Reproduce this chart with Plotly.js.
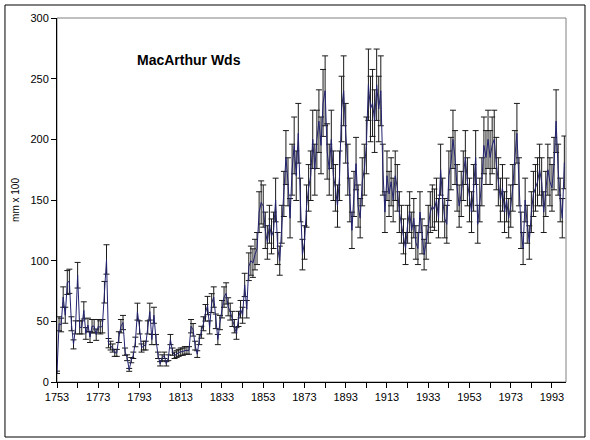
<!DOCTYPE html>
<html>
<head>
<meta charset="utf-8">
<script src="https://cdn.plot.ly/plotly-3.0.1.min.js"></script>
<style>
  html, body { margin: 0; padding: 0; background: #ffffff; }
  #chart { width: 590px; height: 440px; }
</style>
</head>
<body>
<div id="chart"></div>
<script>
// Years 1753..1999 (annual)
const startYear = 1753;
const ringWidth = [
  8, 48, 47, 70, 55, 82, 83, 48, 31, 45,          // 1753-1762
  88, 45, 45, 59, 40, 47, 37, 46, 46, 39,         // 1763-1772
  46, 45, 46, 74, 101, 32, 30, 28, 24, 24,        // 1773-1782
  37, 46, 49, 25, 20, 10, 18, 22, 33, 58,         // 1783-1792
  45, 28, 30, 30, 45, 58, 35, 55, 35, 22,         // 1793-1802
  15, 20, 22, 15, 20, 35, 25, 22, 23, 24,         // 1803-1812
  25, 25, 26, 26, 26, 46, 43, 30, 23, 35,         // 1813-1822
  41, 48, 57, 63, 45, 65, 70, 50, 35, 49,         // 1823-1832
  60, 70, 73, 62, 58, 52, 46, 40, 52, 60,         // 1833-1842
  55, 80, 60, 95, 100, 98, 105, 110, 140, 148,    // 1843-1852
  145, 125, 115, 130, 120, 125, 150, 110, 100, 130, // 1853-1862
  155, 185, 165, 135, 175, 195, 170, 205, 150, 105, // 1863-1872
  115, 145, 160, 170, 200, 175, 200, 215, 195, 230, // 1873-1882
  240, 190, 175, 200, 170, 160, 145, 170, 225, 240, // 1883-1892
  205, 175, 150, 125, 155, 180, 145, 135, 165, 175, // 1893-1902
  195, 245, 225, 230, 215, 245, 225, 240, 175, 140, // 1903-1912
  170, 155, 165, 150, 170, 160, 140, 130, 120, 110, // 1913-1922
  130, 140, 125, 135, 115, 110, 140, 120, 105, 115, // 1923-1932
  130, 140, 145, 142, 150, 135, 175, 150, 135, 130, // 1933-1942
  170, 180, 200, 185, 160, 145, 155, 170, 185, 165, // 1943-1952
  150, 140, 160, 185, 130, 150, 165, 195, 185, 200, // 1953-1962
  185, 195, 200, 180, 165, 150, 160, 140, 150, 135, // 1963-1972
  145, 160, 185, 205, 165, 125, 110, 150, 130, 115, // 1973-1982
  140, 155, 160, 165, 175, 165, 140, 155, 175, 165, // 1983-1992
  160, 180, 215, 175, 150, 135, 181                 // 1993-1999
];
const years = ringWidth.map((_, i) => startYear + i);

const chartTitle = 'MacArthur Wds';
const yAxisTitle = 'mm x 100';
const xTickYears = [1753, 1773, 1793, 1813, 1833, 1853, 1873, 1893, 1913, 1933, 1953, 1973, 1993];
const yTicks = [0, 50, 100, 150, 200, 250, 300];

const trace = {
  x: years,
  y: ringWidth,
  type: 'scatter',
  mode: 'lines',
  line: { color: '#232370', width: 1 },
  error_y: {
    type: 'percent',
    value: 12,
    visible: true,
    color: '#1a1a1a',
    thickness: 1,
    width: 3
  },
  hoverinfo: 'skip',
  showlegend: false
};

const fontFam = '"Liberation Sans", Arial, sans-serif';

const layout = {
  width: 590,
  height: 440,
  margin: { l: 57, r: 24, t: 18, b: 58 },
  paper_bgcolor: '#ffffff',
  plot_bgcolor: '#ffffff',
  font: { family: fontFam, size: 11, color: '#000000' },
  showlegend: false,
  xaxis: {
    range: [1753, 1999.8],
    tickmode: 'array',
    tickvals: xTickYears,
    ticktext: xTickYears.map(String),
    ticks: 'outside',
    ticklen: 5,
    tickwidth: 1,
    tickcolor: '#000000',
    minor: { tick0: 1753, dtick: 10, ticks: 'outside', ticklen: 5, tickwidth: 1, tickcolor: '#000000', showgrid: false },
    showline: true,
    linecolor: '#000000',
    linewidth: 1,
    showgrid: false,
    zeroline: false,
    tickfont: { family: fontFam, size: 11, color: '#000000' }
  },
  yaxis: {
    range: [0, 300],
    tickmode: 'array',
    tickvals: yTicks,
    ticktext: yTicks.map(String),
    ticks: 'outside',
    ticklen: 5,
    tickwidth: 1,
    tickcolor: '#000000',
    showline: true,
    linecolor: '#000000',
    linewidth: 1,
    showgrid: false,
    zeroline: false,
    tickfont: { family: fontFam, size: 11, color: '#000000' },
    title: { text: yAxisTitle, font: { family: fontFam, size: 10, color: '#000000' }, standoff: 8 }
  },
  shapes: [
    { type: 'rect', xref: 'paper', yref: 'paper', x0: 0, x1: 1, y0: 0, y1: 1,
      line: { color: '#808080', width: 1 }, layer: 'below' },
    { type: 'rect', xref: 'paper', yref: 'paper', x0: -0.1022, x1: 1.0373, y0: -0.1511, y1: 1.0357,
      line: { color: '#000000', width: 1 }, layer: 'below' }
  ],
  annotations: [
    { text: '<b>' + chartTitle + '</b>', xref: 'paper', yref: 'paper', x: 0.259, y: 0.885,
      xanchor: 'center', yanchor: 'middle', showarrow: false,
      font: { family: fontFam, size: 14, color: '#000000' } }
  ]
};

Plotly.newPlot('chart', [trace], layout, { staticPlot: true, displayModeBar: false });
</script>
</body>
</html>
